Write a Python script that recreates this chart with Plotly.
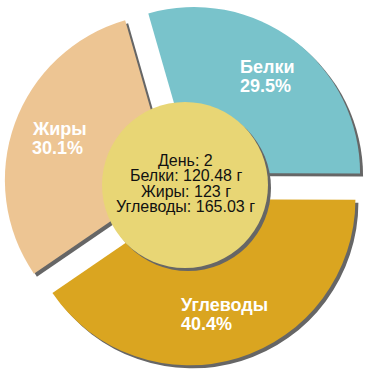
import math
import plotly.graph_objects as go

labels = ["Белки", "Углеводы", "Жиры"]
grams = [120.48, 165.03, 123]
colors = ["#79C3CB", "#DAA520", "#EDC593"]
day = 2
center_lines = [
    f"День: {day}",
    f"Белки: {grams[0]} г",
    f"Жиры: {grams[2]} г",
    f"Углеводы: {grams[1]} г",
]

W = H = 370
CX, CY = 185, 185          # pie centre in px (from top-left)
R = 166                    # outer radius px
PULL_PX = 15
pull = PULL_PX / R
half = R * (1 + pull)
SH = 3                     # shadow offset px
SHADOW = "#666666"
rot = -16                  # start angle (degrees clockwise from 12 o'clock)

def dom(dx, dy):
    x0 = (CX - half + dx) / W
    x1 = (CX + half + dx) / W
    y0 = 1 - (CY + half + dy) / H
    y1 = 1 - (CY - half + dy) / H
    return dict(x=[x0, x1], y=[y0, y1])

fig = go.Figure()
fig.add_trace(go.Pie(
    labels=labels, values=grams, sort=False, direction="clockwise",
    rotation=rot, pull=[pull] * 3, textinfo="none", hoverinfo="skip",
    marker=dict(colors=[SHADOW] * 3, line=dict(width=0)),
    domain=dom(SH, SH), showlegend=False,
))
fig.add_trace(go.Pie(
    labels=labels, values=grams, sort=False, direction="clockwise",
    rotation=rot, pull=[pull] * 3, textinfo="none",
    marker=dict(colors=colors, line=dict(width=0)),
    domain=dom(0, 0), showlegend=False,
))

def px2paper(x, y):
    return x / W, 1 - y / H

# centre disc with shadow
RC = 83
for dx, col in ((SH, SHADOW), (0, "#E8D675")):
    x0, y0 = px2paper(CX - RC + dx, CY + RC + dx)
    x1, y1 = px2paper(CX + RC + dx, CY - RC + dx)
    fig.add_shape(type="circle", xref="paper", yref="paper",
                  x0=x0, y0=y0, x1=x1, y1=y1,
                  fillcolor=col, line=dict(width=0), layer="above")

annotations = []
# slice labels
total = sum(grams)
start = 90 - rot  # math angle of first slice start
FS = 18
LABEL_R = 121
LINE_GAP = 19
for lab, g in zip(labels, grams):
    frac = g / total
    sweep = frac * 360
    mid = math.radians(start - sweep / 2)
    start -= sweep
    pcx = CX + PULL_PX * math.cos(mid)
    pcy = CY - PULL_PX * math.sin(mid)
    bx = pcx + LABEL_R * math.cos(mid)
    by = pcy - LABEL_R * math.sin(mid)
    pct = f"{frac * 100:.1f}%"
    est_w = max(len(lab) * 0.64 * FS, len(pct) * 0.6 * FS)
    left = bx - est_w / 2
    for i, t in enumerate((lab, pct)):
        ly = by + (i - 0.5) * LINE_GAP
        x, y = px2paper(left, ly)
        annotations.append(dict(
            x=x, y=y, xref="paper", yref="paper", text=f"<b>{t}</b>",
            showarrow=False, xanchor="left", yanchor="middle",
            font=dict(family="Liberation Sans, Arial", size=FS, color="white"),
        ))

# centre text
CFS = 16
CLINE = 15.5
baseline0 = 165.7
for i, t in enumerate(center_lines):
    ly = baseline0 + i * CLINE - 0.35 * CFS
    x, y = px2paper(CX + 0.5, ly)
    annotations.append(dict(
        x=x, y=y, xref="paper", yref="paper", text=t, showarrow=False,
        xanchor="center", yanchor="middle",
        font=dict(family="Liberation Sans, Arial", size=CFS, color="#111111"),
    ))

fig.update_layout(
    width=W, height=H, margin=dict(l=0, r=0, t=0, b=0),
    paper_bgcolor="white", plot_bgcolor="white",
    annotations=annotations,
)
fig.write_html("out.html")
